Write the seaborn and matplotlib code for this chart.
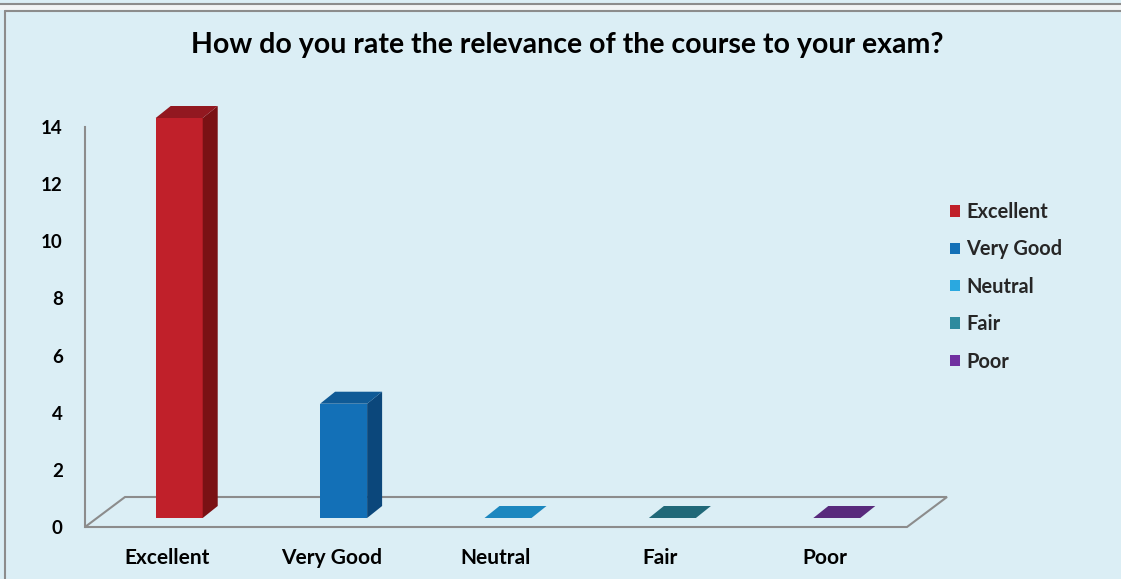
import numpy as np
import pandas as pd
import seaborn as sns
import matplotlib.pyplot as plt
from matplotlib.patches import Polygon, Patch, Rectangle
from matplotlib.lines import Line2D

# data
categories = ["Excellent", "Very Good", "Neutral", "Fair", "Poor"]
counts = [14, 4, 0, 0, 0]
y_ticks = [0, 2, 4, 6, 8, 10, 12, 14]
title = "How do you rate the relevance of the course to your exam?"

front_colors = ["#C0202A", "#1370B7", "#1C87BF", "#216A79", "#5A2B7E"]
side_colors = ["#7A1114", "#0B477B", "#13628C", "#174C58", "#3F1E5A"]
top_colors = ["#921820", "#0F5A96", "#1C87BF", "#206878", "#582A7C"]
legend_colors = ["#C0202A", "#1370B7", "#2AA8E0", "#2E8A9E", "#7030A0"]

bg = "#DBEEF5"
edge = "#8C8C8C"

sns.set_theme(style="white")
plt.rcParams["font.family"] = ["Lato", "DejaVu Sans"]

W, H = 1121, 579
fig = plt.figure(figsize=(W / 100, H / 100), dpi=100, facecolor=bg)

# frame decoration (top strip + chart box border)
fig.add_artist(Rectangle((0, 1 - 10 / H), 1, 6 / H, transform=fig.transFigure,
                         facecolor="#F2F4F5", edgecolor="none"))
fig.add_artist(Line2D([0, 1], [1 - 4 / H, 1 - 4 / H], transform=fig.transFigure,
                      color=edge, lw=1.5))
fig.add_artist(Line2D([5 / W, 1], [1 - 11 / H, 1 - 11 / H], transform=fig.transFigure,
                      color=edge, lw=1.5))
fig.add_artist(Line2D([5 / W, 5 / W], [0, 1 - 11 / H], transform=fig.transFigure,
                      color=edge, lw=1.5))

ax = fig.add_axes([85 / W, 52 / H, 822 / W, 400 / H])
ax.set_facecolor("none")

df = pd.DataFrame({"rating": categories, "count": counts})
sns.barplot(data=df, x="rating", y="count", hue="rating", palette=front_colors,
            width=0.286, saturation=1, legend=False, ax=ax, zorder=3)

xlim = (-0.5, len(categories) - 0.5)
ylim = (0, 14)
ax.set_xlim(*xlim)
ax.set_ylim(*ylim)

# data units per pixel
pos = ax.get_position()
ux = (xlim[1] - xlim[0]) / (pos.width * W)
uy = (ylim[1] - ylim[0]) / (pos.height * H)

# floor of the 3D plot
fx, fy = 40 * ux, 30 * uy
floor = Polygon([(xlim[0], 0), (xlim[1], 0), (xlim[1] + fx, fy), (xlim[0] + fx, fy)],
                closed=True, facecolor="none", edgecolor=edge, lw=1.5,
                zorder=1, clip_on=False)
ax.add_patch(floor)

# push bars into the floor and add side/top faces
bx, by = 12 * ux, 9 * uy
dx, dy = 15 * ux, 12 * uy
for i, p in enumerate(ax.patches[:len(categories)]):
    p.set_x(p.get_x() + bx)
    p.set_y(p.get_y() + by)
    p.set_clip_on(False)
    p.set_edgecolor("none")
    x0 = p.get_x()
    x1 = x0 + p.get_width()
    y0 = p.get_y()
    y1 = y0 + p.get_height()
    if p.get_height() > 0:
        ax.add_patch(Polygon([(x1, y0), (x1 + dx, y0 + dy), (x1 + dx, y1 + dy), (x1, y1)],
                             closed=True, facecolor=side_colors[i], edgecolor="none",
                             zorder=3, clip_on=False))
    ax.add_patch(Polygon([(x0, y1), (x1, y1), (x1 + dx, y1 + dy), (x0 + dx, y1 + dy)],
                         closed=True, facecolor=top_colors[i], edgecolor="none",
                         zorder=3, clip_on=False))

for s in ["top", "right", "bottom"]:
    ax.spines[s].set_visible(False)
ax.spines["left"].set_color(edge)
ax.spines["left"].set_linewidth(1.5)

ax.set_yticks(y_ticks)
ax.set_yticklabels([str(t) for t in y_ticks])
ax.tick_params(axis="y", length=0, pad=16, labelsize=13.5)
ax.tick_params(axis="x", length=0, pad=15, labelsize=15)
for lab in ax.get_xticklabels() + ax.get_yticklabels():
    lab.set_fontweight("bold")
    lab.set_color("black")
ax.set_xlabel("")
ax.set_ylabel("")

fig.text(0.506, 1 - 45 / H, title, ha="center", va="center",
         fontsize=20.5, fontweight="bold", color="black")

handles = [Patch(facecolor=c, edgecolor="none") for c in legend_colors]
leg = fig.legend(handles, categories, loc="upper left",
                 bbox_to_anchor=(950 / W, 1 - 202 / H), frameon=False,
                 prop={"weight": "bold", "size": 14.4}, handlelength=0.5,
                 handleheight=0.5, handletextpad=0.3, labelspacing=0.87,
                 borderaxespad=0, borderpad=0)

fig.savefig("out.png", dpi=100, facecolor=bg)
